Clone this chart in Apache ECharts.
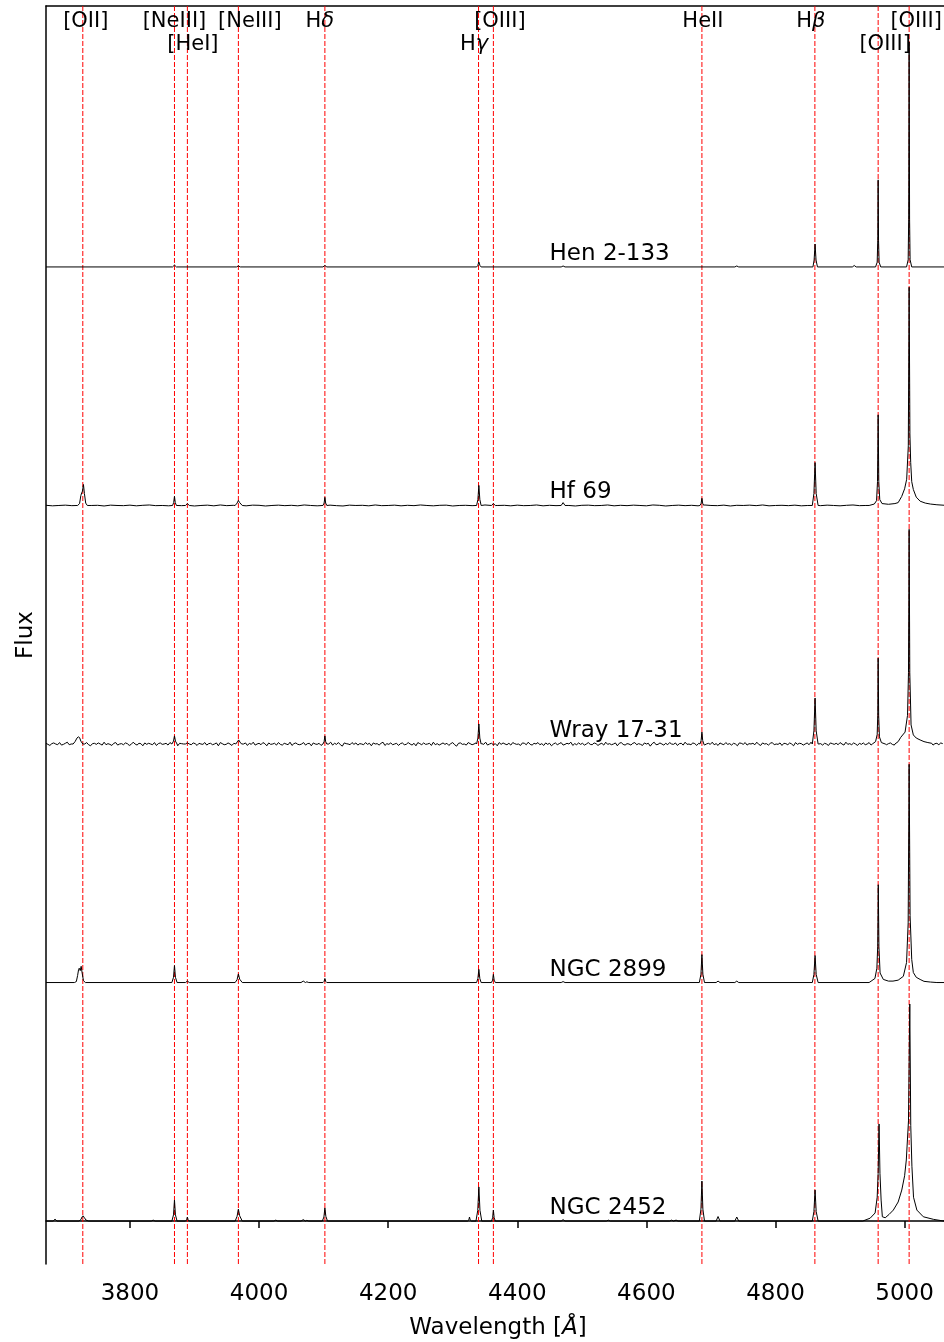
<!DOCTYPE html>
<html>
<head>
<meta charset="utf-8">
<script src="https://cdn.jsdelivr.net/npm/echarts/dist/echarts.min.js"></script>
<style>
  html, body { margin: 0; padding: 0; background: #ffffff; }
  #chart { width: 944px; height: 1342px; }
</style>
</head>
<body>
<div id="chart"></div>
<script>
// ---------- data ----------
const objectNames = ['Hen 2-133', 'Hf 69', 'Wray 17-31', 'NGC 2899', 'NGC 2452'];
const objectOffsets = [4, 3, 2, 1, 0];

const xTicks = [3800, 4000, 4200, 4400, 4600, 4800, 5000];

const lineLabels = ['[OII]', '[NeIII]', '[HeI]', '[NeIII]', 'H\u03b4', 'H\u03b3', '[OIII]', 'HeII', 'H\u03b2', '[OIII]', '[OIII]'];
const lineWavelengths = [3727, 3869, 3889, 3968, 4102, 4340, 4363, 4686, 4861, 4959, 5007];

// emission features: each feature is a run of [wavelength (Å), normalised flux] points
const hen2133Lines = [
  [[3866, 0], [3869, 0.008], [3872, 0]],
  [[3965, 0], [3968, 0.004], [3971, 0]],
  [[4099, 0], [4102, 0.006], [4105, 0]],
  [[4337, 0], [4338.8, 0.006], [4340.5, 0.021], [4342.2, 0.006], [4344, 0]],
  [[4468, 0], [4471, 0.004], [4474, 0]],
  [[4737, 0], [4740, 0.004], [4743, 0]],
  [[4858, 0], [4859.8, 0.029], [4861.3, 0.096], [4862.8, 0.029], [4865, 0]],
  [[4919, 0], [4922, 0.006], [4925, 0]],
  [[4955, 0], [4957.5, 0.02], [4958.4, 0.11], [4959, 0.365], [4959.6, 0.11], [4960.5, 0.02], [4963, 0]],
  [[5003, 0], [5005.5, 0.03], [5006.3, 0.2], [5007, 0.943], [5007.7, 0.2], [5008.5, 0.03], [5011, 0]]
];

const hf69Lines = [
  [[3719, 0], [3722, 0.008], [3724, 0.042], [3725.3, 0.053], [3726.5, 0.06], [3728, 0.088], [3729.5, 0.05], [3731.5, 0.01], [3734, 0]],
  [[3866, 0], [3867.8, 0.012], [3869, 0.038], [3870.2, 0.012], [3872, 0]],
  [[3886, 0], [3889, 0.008], [3892, 0]],
  [[3963, 0], [3966, 0.01], [3968, 0.021], [3970, 0.012], [3974, 0]],
  [[4099, 0], [4100.8, 0.01], [4102, 0.034], [4103.2, 0.01], [4105, 0]],
  [[4337, 0], [4339, 0.025], [4340.5, 0.084], [4342, 0.025], [4344, 0]],
  [[4360, 0], [4363, 0.008], [4366, 0]],
  [[4468, 0], [4471, 0.012], [4474, 0]],
  [[4683, 0], [4684.8, 0.009], [4686, 0.03], [4687.2, 0.009], [4689, 0]],
  [[4857, 0], [4859.5, 0.05], [4861.3, 0.18], [4863, 0.05], [4866, 0]],
  [[4945, 0], [4953, 0.006], [4956.5, 0.02], [4958, 0.1], [4959, 0.38], [4960, 0.1], [4961.5, 0.025], [4965, 0.008],
   [4975, 0.005], [4985, 0.008], [4990, 0.012], [4995.5, 0.038], [5000, 0.07], [5003.2, 0.11], [5005.7, 0.25],
   [5007, 0.915], [5008.2, 0.3], [5009.4, 0.18], [5011, 0.1], [5013.5, 0.067], [5018, 0.035], [5024, 0.018],
   [5032, 0.01], [5040, 0.006], [5050, 0.003], [5061, 0.001]]
];

const wray1731Lines = [
  [[3712, 0], [3715, 0.01], [3718, 0.025], [3720, 0.03], [3722, 0.027], [3724, 0.012], [3727, 0]],
  [[3865, 0], [3867.5, 0.012], [3869, 0.034], [3870.5, 0.012], [3873, 0]],
  [[3886, 0], [3889, 0.005], [3892, 0]],
  [[3964, 0], [3967, 0.012], [3968.5, 0.017], [3970.5, 0.008], [3973, 0]],
  [[4099, 0], [4100.8, 0.01], [4102, 0.034], [4103.2, 0.01], [4105, 0]],
  [[4337, 0], [4339, 0.025], [4340.5, 0.084], [4342, 0.025], [4344, 0]],
  [[4683, 0], [4684.8, 0.015], [4686, 0.05], [4687.2, 0.015], [4689, 0]],
  [[4857, 0], [4859.5, 0.055], [4861.3, 0.193], [4863, 0.055], [4866, 0]],
  [[4950, 0], [4955, 0.01], [4957.5, 0.04], [4958.4, 0.12], [4959, 0.36], [4959.8, 0.12], [4961, 0.03], [4964, 0.006], [4970, 0]],
  [[4985, 0], [4990, 0.01], [4994, 0.028], [5000.7, 0.05], [5004.5, 0.12], [5006, 0.3], [5007, 0.9], [5008, 0.3],
   [5010, 0.08], [5013.5, 0.038], [5018, 0.025], [5024, 0.017], [5030, 0.01], [5036, 0.006], [5042, 0.003]]
];

const ngc2899Lines = [
  [[3714, 0], [3717, 0.004], [3719, 0.03], [3720.5, 0.055], [3721.5, 0.06], [3723, 0.05], [3724.5, 0.068], [3726, 0.04], [3728, 0.008], [3731, 0]],
  [[3865, 0], [3867.5, 0.022], [3869, 0.071], [3870.5, 0.022], [3873, 0]],
  [[3886, 0], [3889, 0.006], [3892, 0]],
  [[3963, 0], [3966, 0.012], [3968, 0.036], [3970, 0.014], [3974, 0]],
  [[4065, 0], [4068.5, 0.006], [4072, 0], [4074, 0.003], [4077, 0]],
  [[4099, 0], [4100.8, 0.005], [4102, 0.017], [4103.2, 0.005], [4105, 0]],
  [[4337, 0], [4339, 0.017], [4340.5, 0.055], [4342, 0.017], [4344, 0]],
  [[4360, 0], [4361.8, 0.01], [4363, 0.034], [4364.2, 0.01], [4366, 0]],
  [[4468, 0], [4471, 0.004], [4474, 0]],
  [[4682, 0], [4684.5, 0.035], [4686, 0.117], [4687.5, 0.035], [4690, 0]],
  [[4708, 0], [4711, 0.006], [4714, 0]],
  [[4737, 0], [4740, 0.006], [4743, 0]],
  [[4857, 0], [4859.5, 0.034], [4861.3, 0.113], [4863, 0.034], [4866, 0]],
  [[4945, 0], [4954, 0.017], [4957, 0.06], [4958.3, 0.15], [4959.2, 0.41], [4960.2, 0.15], [4962, 0.04], [4967, 0.013],
   [4975, 0.006], [4982, 0.006], [4990, 0.01], [4998, 0.026], [5003, 0.084], [5005.5, 0.25], [5007, 0.915],
   [5008.5, 0.28], [5011, 0.097], [5013.5, 0.042], [5018, 0.022], [5024, 0.013], [5030, 0.005], [5040, 0.002], [5050, 0]]
];

const ngc2452Lines = [
  [[3681, 0], [3684, 0.008], [3687, 0]],
  [[3721, 0], [3724, 0.006], [3726, 0.018], [3727.5, 0.022], [3729.5, 0.014], [3732, 0.004], [3736, 0]],
  [[3833, 0], [3836, 0.004], [3839, 0]],
  [[3865, 0], [3867.5, 0.026], [3869, 0.088], [3870.5, 0.026], [3873, 0]],
  [[3886, 0], [3887.8, 0.005], [3889, 0.017], [3890.2, 0.005], [3892, 0]],
  [[3963, 0], [3966, 0.02], [3968, 0.05], [3970, 0.022], [3974, 0]],
  [[4023, 0], [4026, 0.004], [4029, 0]],
  [[4065, 0], [4068.5, 0.006], [4072, 0], [4074, 0.003], [4077, 0]],
  [[4098, 0], [4100.5, 0.017], [4102, 0.055], [4103.5, 0.02], [4106, 0]],
  [[4323, 0], [4325, 0.005], [4326, 0.017], [4327, 0.005], [4329, 0]],
  [[4336, 0], [4338.8, 0.045], [4340.5, 0.143], [4342.2, 0.045], [4345, 0]],
  [[4360, 0], [4361.8, 0.014], [4363, 0.046], [4364.2, 0.014], [4366, 0]],
  [[4468, 0], [4471, 0.006], [4474, 0]],
  [[4538, 0], [4541, 0.004], [4544, 0]],
  [[4636, 0], [4639, 0.004], [4642, 0], [4646, 0.004], [4649, 0]],
  [[4682, 0], [4684.5, 0.05], [4686, 0.168], [4687.5, 0.05], [4690, 0]],
  [[4708, 0], [4711, 0.019], [4714, 0]],
  [[4737, 0], [4740, 0.017], [4743, 0]],
  [[4857, 0], [4859.5, 0.04], [4861.3, 0.13], [4863, 0.04], [4866, 0]],
  [[4935, 0], [4946.6, 0.012], [4954.3, 0.034], [4957.5, 0.1], [4959, 0.2], [4960.4, 0.407], [4961.8, 0.2], [4963.6, 0.088],
   [4965.5, 0.018], [4970, 0.014], [4976, 0.028], [4982.5, 0.046], [4990, 0.08], [4995.6, 0.13], [5000, 0.19],
   [5002.6, 0.256], [5006, 0.42], [5008, 0.91], [5009.5, 0.4], [5011.3, 0.23], [5013.8, 0.1], [5019, 0.046],
   [5029, 0.018], [5045, 0.007], [5061, 0.004]]
];

// continuum noise, sampled every 3 Å from 3670 Å (units of 0.0015)
const wray1731Noise = [
  2, -1, -4, 1, 3, 0, -2, 4, -3, -1, 2, 5, -2, 0, -4, 1, 3, -1, 2, -3,
  0, 4, -2, -5, 1, 2, -1, 3, 0, -3, 5, -2, 1, -1, -4, 2, 4, -3, 0, 1,
  -2, 3, 1, -4, -1, 5, 0, -3, 2, 1, -5, 3, -1, 2, 0, -2, 4, -4, 1, 3,
  -1, 0, 2, -3, 4, -2, -1, 3, -5, 2, 1, 0, -3, 5, -1, -2, 3, 1, -4, 2,
  0, -1, 4, -3, 1, 2, -2, 0, 3, -5, 4, 1, -2, -1, 3, 0, -4, 2, 5, -3,
  1, -2, 0, 3, -4, 2, -1, 5, -3, 0, 2, -2, 4, 1, -5, 3, -1, 0, 2, -3,
  4, -1, -3, 2, 0, -2, 5, -4, 1, 3, -1, -2, 0, 4, -3, 1, 2, -5, 3, 0,
  -1, 2, -4, 3, 1, -2, 0, 5, -3, 2, -1, 4, -2, -6, 3, 1, 0, -2, 4, -1,
  3, -3, 1, 0, -2, 4, -1, 2, -5, 3, 0, 1, -3, 2, 5, -4, 1, -1, 3, -2,
  0, 2, -4, 1, 3, -2, -1, 4, 0, -3, 2, -5, 4, 1, -2, 3, -1, 0, 2, -4,
  5, -2, 1, -3, 0, 3, -1, 2, -4, 1, 4, -2, -6, 2, 3, -1, 0, -3, 4, 1,
  -2, 0, 3, -4, 2, 1, -1, 5, -3, 0, 2, -2, 1, -5, 4, -1, 3, 0, -2, 2,
  -3, 4, 1, -1, 0, -4, 3, 2, -2, 5, -1, -3, 2, 0, 4, -2, 1, -4, 3, -1,
  2, -5, 0, 3, -2, 1, 4, -3, -1, 2, 0, 5, -4, 1, -2, 3, -1, 2, -3, 0,
  4, -1, -2, 3, 1, -4, 0, 2, -3, 5, -1, 1, -2, 0, 3, -5, 2, 4, -1, -3,
  1, 0, -3, 2, 4, -2, 1, -1, -4, 3, 0, 2, -6, 1, 5, -2, -1, 3, 0, -3,
  2, -2, 4, 0, -1, 3, -4, 1, 2, -3, 5, -1, 0, -2, 3, 1, -4, 2, -1, 4,
  -3, 0, 2, -1, 5, -2, 1, -4, 3, 0, -2, 4, -1, 1, -3, 2, 0, -5, 3, 2,
  -1, 4, -3, 1, 0, 2, -2, 5, -1, -4, 3, 0, 1, -3, 2, 4, -2, 0, -1, 3,
  -4, 2, 1, -2, 3, 0, -5, 4, -1, 2, 1, -3, 0, 3, -2, 5, -1, -2, 4, 0,
  1, -3, 2, 0, -4, 3, 1, -1, 2, -2, 4, 0, -3, 5, -1, 1, -2, 3, 0, -4,
  2, -1, 3, -2, 0, 4, -3, 1, -1, 2, 5, -4, 0, 2, -2, 1, 3, -1, -3, 2,
  0, 3, -1, -4, 2, 1, -2, 4, -3, 0, 1, -1, 3, -2, 2, 4, -1, 0, -3, 1,
  2, -2, 3, 1, -1, 0, 2, -3, 4, 1, -2, 3, 0, -1, 2
];

// continuum noise, sampled every 10 Å from 3670 Å (units of 0.0007)
const hf69Noise = [
  1, -2, 0, 2, -1, 3, -2, 0, 1, -3, 2, 0, -1, 2, -2, 1, 3, -1, 0, -2,
  2, -1, 1, -3, 0, 2, -2, 3, -1, 1, 0, -2, 2, 1, -3, 0, 2, -1, 1, -2,
  3, 0, -2, 1, 2, -1, -3, 2, 0, 1, -2, 3, -1, 0, 2, -2, 1, -1, 3, 0,
  -2, 1, 2, -3, 0, 1, -1, 2, 3, -2, 0, 1, -2, 2, -1, 0, 3, -2, 1, -1,
  2, 0, -3, 1, 2, -1, 0, 3, -2, 1, -1, 2, 0, -2, 3, 1, -3, 0, 2, -1,
  1, -2, 3, 0, -1, 2, -3, 1, 0, 2, -1, 3, -2, 0, 1, -1, 2, -2, 0, 1,
  -1, 2, 0, -2, 1, 3, -1, 0, 2, -3, 1, 0, -1, 2, -2, 1, 0, 2, -1, 0, 1
];

// ---------- layout ----------
const FONT = 'DejaVu Sans';
const FS_LINE = 21;
const FS_NAME = 23;
const FS_AXIS = 23;
const GRID = { left: 46, top: 6, right: 0, bottom: 78, containLabel: false, outerBoundsMode: 'none' };
const X_MIN = 3670, X_MAX = 5061;
const Y_MIN = -0.18, Y_MAX = 5.094;
const labelRow = [0, 0, 1, 0, 0, 1, 0, 0, 0, 1, 0];
const labelDx = [3, 0, 5.5, 11.5, -5, -4.5, 6.5, 1, -4, 7, 7];
const rowY = [16, 39];
const NAME_WL = 4450;
const NAME_LIFT = 13;

// ---------- assemble spectra ----------
function buildSpectrum(features, noise, noiseStep, noiseUnit) {
  const pts = [];
  const spans = features.map(f => [f[0][0], f[f.length - 1][0]]);
  if (noise) {
    noise.forEach((v, i) => {
      const wl = X_MIN + i * noiseStep;
      if (wl <= X_MAX && !spans.some(s => wl >= s[0] && wl <= s[1])) pts.push([wl, v * noiseUnit]);
    });
  } else {
    pts.push([X_MIN, 0], [X_MAX, 0]);
  }
  features.forEach(f => f.forEach(p => pts.push([p[0], p[1]])));
  pts.sort((a, b) => a[0] - b[0]);
  return pts;
}

const spectra = [
  buildSpectrum(hen2133Lines, null, 0, 0),
  buildSpectrum(hf69Lines, hf69Noise, 10, 0.0007),
  buildSpectrum(wray1731Lines, wray1731Noise, 3, 0.0015),
  buildSpectrum(ngc2899Lines, null, 0, 0),
  buildSpectrum(ngc2452Lines, null, 0, 0)
];

const chart = echarts.init(document.getElementById('chart'), null, { renderer: 'canvas' });

// identification lines: one dashed vertical per wavelength
const series = [{
  type: 'custom',
  name: 'identifications',
  silent: true,
  z: 1,
  data: lineWavelengths.map(w => [w, 0]),
  encode: { x: 0, y: 1 },
  renderItem: function (params, api) {
    const w = api.value(0);
    const top = api.coord([w, Y_MAX]);
    const bot = api.coord([w, Y_MIN]);
    return {
      type: 'line',
      shape: { x1: top[0], y1: top[1], x2: bot[0], y2: bot[1] },
      style: { stroke: '#ff0000', lineWidth: 1, lineDash: [5, 2] }
    };
  }
}];

// spectra: each is drawn as a single polyline through the axis scales
spectra.forEach((pts, k) => {
  series.push({
    type: 'custom',
    name: objectNames[k],
    silent: true,
    z: 3,
    data: pts.map(p => [p[0], p[1] + objectOffsets[k]]),
    encode: { x: 0, y: 1 },
    renderItem: function (params, api) {
      if (params.dataIndex !== 0) return null;
      const coords = pts.map(p => api.coord([p[0], p[1] + objectOffsets[k]]));
      return {
        type: 'polyline',
        shape: { points: coords },
        style: { stroke: '#000000', lineWidth: 1, fill: null, lineJoin: 'round' }
      };
    }
  });
});

const option = {
  animation: false,
  backgroundColor: '#ffffff',
  grid: GRID,
  xAxis: [{
    type: 'value',
    position: 'bottom',
    min: X_MIN,
    max: X_MAX,
    axisLine: { show: true, lineStyle: { color: '#000', width: 1.5 } },
    axisTick: { show: true, inside: false, length: 7, lineStyle: { color: '#000', width: 1.5 }, customValues: xTicks },
    axisLabel: {
      show: true, customValues: xTicks, fontFamily: FONT, fontSize: FS_AXIS, color: '#000', margin: 19,
      formatter: v => String(v)
    },
    splitLine: { show: false },
    name: '{n|Wavelength [}{a|\u00c5}{n|]}',
    nameLocation: 'middle',
    nameGap: 53,
    nameTextStyle: {
      fontFamily: FONT, fontSize: FS_AXIS, color: '#000', padding: [0, 0, 0, 6],
      rich: {
        n: { fontFamily: FONT, fontSize: FS_AXIS, color: '#000' },
        a: { fontFamily: FONT, fontSize: FS_AXIS, color: '#000', fontStyle: 'italic' }
      }
    }
  }, {
    type: 'value',
    position: 'top',
    min: X_MIN,
    max: X_MAX,
    axisLine: { show: true, lineStyle: { color: '#000', width: 1.5 } },
    axisTick: { show: false },
    axisLabel: { show: false },
    splitLine: { show: false }
  }],
  yAxis: {
    type: 'value',
    min: Y_MIN,
    max: Y_MAX,
    axisLine: { show: true, lineStyle: { color: '#000', width: 1.5 } },
    axisTick: { show: false },
    axisLabel: { show: false },
    splitLine: { show: false },
    name: 'Flux',
    nameLocation: 'middle',
    nameRotate: 90,
    nameGap: 8,
    nameTextStyle: { fontFamily: FONT, fontSize: FS_AXIS, color: '#000' }
  },
  series: series
};

chart.setOption(option);

// annotations: line identifications along the top and object names over each spectrum
function richLabel(txt) {
  return txt.replace(/([\u03b1-\u03c9])/g, '{i|$1}');
}
const graphics = [];
lineLabels.forEach((lab, i) => {
  const px = chart.convertToPixel({ xAxisIndex: 0 }, lineWavelengths[i]) + labelDx[i];
  graphics.push({
    type: 'text',
    x: px,
    y: GRID.top + rowY[labelRow[i]],
    z: 100,
    silent: true,
    style: {
      text: richLabel(lab),
      fontFamily: FONT, fontSize: FS_LINE, fill: '#000',
      align: 'center',
      verticalAlign: 'middle',
      rich: { i: { fontFamily: FONT, fontSize: FS_LINE, fill: '#000', fontStyle: 'italic' } }
    }
  });
});
objectNames.forEach((nm, i) => {
  const p = chart.convertToPixel({ gridIndex: 0 }, [NAME_WL, objectOffsets[i]]);
  graphics.push({
    type: 'text',
    x: p[0],
    y: p[1] - NAME_LIFT,
    z: 100,
    silent: true,
    style: { text: nm, fontFamily: FONT, fontSize: FS_NAME, fill: '#000', align: 'left', verticalAlign: 'middle' }
  });
});
chart.setOption({ graphic: graphics });
</script>
</body>
</html>
